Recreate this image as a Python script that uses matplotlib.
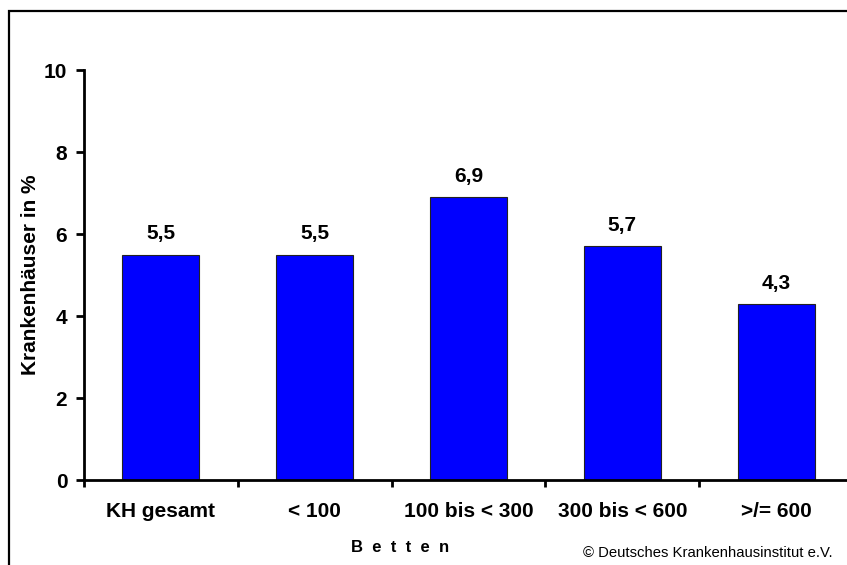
import matplotlib.pyplot as plt
from matplotlib.patches import Rectangle
from matplotlib.ticker import FixedLocator

plt.rcParams['font.family'] = 'Liberation Sans'

# Data
categories = ['KH gesamt', '< 100', '100 bis < 300', '300 bis < 600', '>/= 600']
values = [5.5, 5.5, 6.9, 5.7, 4.3]
value_labels = ['5,5', '5,5', '6,9', '5,7', '4,3']
y_ticks = [0, 2, 4, 6, 8, 10]

fig = plt.figure(figsize=(8.47, 5.65), dpi=100)
ax = fig.add_axes([0.0992, 0.1504, 0.908, 0.7257])

x = [i + 0.5 for i in range(len(categories))]
ax.bar(x, values, width=0.5, color='#0000ff', edgecolor='#222222', linewidth=0.8, zorder=2)

for xi, v, lab in zip(x, values, value_labels):
    ax.annotate(lab, (xi, v), xytext=(0, 8), textcoords='offset points',
                ha='center', va='bottom', fontsize=15, fontweight='bold')

ax.set_xlim(0, len(categories))
ax.set_ylim(0, 10)
ax.set_yticks(y_ticks)
ax.set_yticklabels([str(t) for t in y_ticks], fontsize=15, fontweight='bold')
ax.set_xticks(x)
ax.set_xticklabels(categories, fontsize=15, fontweight='bold')
ax.xaxis.set_minor_locator(FixedLocator(range(len(categories) + 1)))

ax.tick_params(axis='x', which='major', length=0, pad=16)
ax.tick_params(axis='x', which='minor', length=5, width=2, direction='out')
ax.tick_params(axis='y', length=6, width=2, direction='out', pad=6)

for s in ['top', 'right']:
    ax.spines[s].set_visible(False)
for s in ['left', 'bottom']:
    ax.spines[s].set_linewidth(2)

ax.set_ylabel('Krankenhäuser in %', fontsize=15, fontweight='bold', labelpad=3)

fig.text(400 / 847, 1 - 548 / 565, 'B  e  t  t  e  n', ha='center', va='center',
         fontsize=12, fontweight='bold')
fig.text(833 / 847, 1 - 553 / 565, '© Deutsches Krankenhausinstitut e.V.',
         ha='right', va='center', fontsize=10.7)

# outer frame (cropped at right and bottom)
fig.patches.append(Rectangle((9 / 847, -0.1), 1.2, 1 - 11 / 565 + 0.1,
                             transform=fig.transFigure, fill=False,
                             edgecolor='black', linewidth=1.6))

fig.savefig('out.png', dpi=100)
